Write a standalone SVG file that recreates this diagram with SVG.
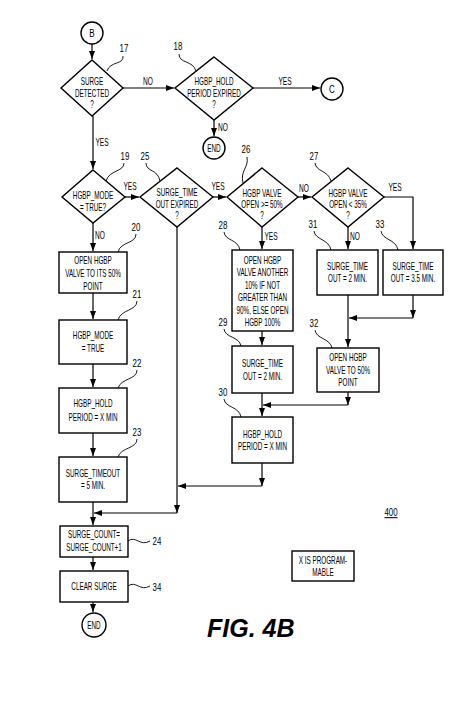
<svg xmlns="http://www.w3.org/2000/svg" width="474" height="706" viewBox="0 0 474 706">
<style>
.n{fill:#fff;stroke:#000;stroke-width:1.4}
.c{fill:none;stroke:#000;stroke-width:1.2}
.ld{fill:none;stroke:#000;stroke-width:0.9}
text{font-family:"Liberation Sans",Arial,sans-serif;fill:#000}
.t{font-size:11.5px;text-anchor:middle}
.l{font-size:11px;text-anchor:middle}
.num{font-size:10.5px;text-anchor:middle}
</style>
<defs>
<marker id="a" markerUnits="userSpaceOnUse" markerWidth="8" markerHeight="6" refX="8" refY="3" orient="auto">
<path d="M0,0 L8,3 L0,6 z" fill="#000"/>
</marker>
</defs>
<rect width="474" height="706" fill="#fff"/>

<g id="connectors">
<path class="c" d="M92,44 V59" marker-end="url(#a)"/>
<path class="c" d="M123,88 H174" marker-end="url(#a)"/>
<path class="c" d="M253,88 H320" marker-end="url(#a)"/>
<path class="c" d="M214,120 V136" marker-end="url(#a)"/>
<path class="c" d="M93,116 V169" marker-end="url(#a)"/>
<path class="c" d="M125,197 H139" marker-end="url(#a)"/>
<path class="c" d="M213,197 H226" marker-end="url(#a)"/>
<path class="c" d="M298,197 H311" marker-end="url(#a)"/>
<path class="c" d="M384,197 H413 V249" marker-end="url(#a)"/>
<path class="c" d="M348,227 V249" marker-end="url(#a)"/>
<path class="c" d="M262,227 V249" marker-end="url(#a)"/>
<path class="c" d="M93,223 V251" marker-end="url(#a)"/>
<path class="c" d="M93,293 V319" marker-end="url(#a)"/>
<path class="c" d="M93,364 V387" marker-end="url(#a)"/>
<path class="c" d="M93,433 V456" marker-end="url(#a)"/>
<path class="c" d="M93,502 V525" marker-end="url(#a)"/>
<path class="c" d="M93,557 V570" marker-end="url(#a)"/>
<path class="c" d="M93,602 V612" marker-end="url(#a)"/>
<path class="c" d="M177,227 V513" marker-end="url(#a)"/>
<path class="c" d="M177,513 H94" marker-end="url(#a)"/>
<path class="c" d="M262,331 V345" marker-end="url(#a)"/>
<path class="c" d="M348,295 V347" marker-end="url(#a)"/>
<path class="c" d="M413,295 V318" marker-end="url(#a)"/>
<path class="c" d="M413,318 H349" marker-end="url(#a)"/>
<path class="c" d="M262,393 V416" marker-end="url(#a)"/>
<path class="c" d="M348,392 V405" marker-end="url(#a)"/>
<path class="c" d="M348,405 H263" marker-end="url(#a)"/>
<path class="c" d="M262,463 V486" marker-end="url(#a)"/>
<path class="c" d="M262,486 H178" marker-end="url(#a)"/>
<text class="l" transform="translate(148,85) scale(0.6,1)">NO</text>
<text class="l" transform="translate(285,85) scale(0.6,1)">YES</text>
<text class="l" transform="translate(223,131) scale(0.6,1)">NO</text>
<text class="l" transform="translate(102,146) scale(0.6,1)">YES</text>
<text class="l" transform="translate(130,190) scale(0.6,1)">YES</text>
<text class="l" transform="translate(218,190) scale(0.6,1)">YES</text>
<text class="l" transform="translate(304,192) scale(0.6,1)">NO</text>
<text class="l" transform="translate(395,191) scale(0.6,1)">YES</text>
<text class="l" transform="translate(100,239) scale(0.6,1)">NO</text>
<text class="l" transform="translate(271,240) scale(0.6,1)">YES</text>
<text class="l" transform="translate(355,240) scale(0.6,1)">NO</text>
</g>

<g id="leaders">
<path class="ld" d="M123,56 C124,65 110,61 107,71"/>
<path class="ld" d="M179,54 C179,64 193,60 196,71"/>
<path class="ld" d="M124,163 C124,172 109,170 106,181"/>
<path class="ld" d="M146,163 C146,172 158,169 160,181"/>
<path class="ld" d="M247,157 C249,168 240,170 243,183"/>
<path class="ld" d="M315,163 C316,172 328,170 331,181"/>
<path class="ld" d="M224,232 C225,241 238,239 240,250"/>
<path class="ld" d="M314,231 C315,240 329,239 331,250"/>
<path class="ld" d="M381,231 C382,240 396,239 398,250"/>
<path class="ld" d="M224,329 C225,338 239,336 241,346"/>
<path class="ld" d="M315,330 C316,339 330,338 332,348"/>
<path class="ld" d="M224,399 C225,408 239,406 241,417"/>
<path class="ld" d="M136,234 C136,244 121,241 118,252"/>
<path class="ld" d="M137,301 C137,311 121,309 118,320"/>
<path class="ld" d="M137,370 C137,380 121,378 118,388"/>
<path class="ld" d="M137,439 C137,449 121,447 118,457"/>
<path class="ld" d="M128,541 C136,535 140,547 150,541"/>
<path class="ld" d="M128,586 C136,580 140,592 150,586"/>
</g>

<g id="B">
<circle class="n" cx="92" cy="33" r="11"/>
<text class="t" transform="translate(92,37) scale(0.7,1)">B</text>
</g>
<g id="n17">
<polygon class="n" points="92,60 123,88 92,116 61,88"/>
<text class="t" transform="translate(92,85) scale(0.55,1)">SURGE</text>
<text class="t" transform="translate(92,97) scale(0.55,1)">DETECTED</text>
<text class="t" transform="translate(92,108) scale(0.55,1)">?</text>
<text class="num" transform="translate(124,52) scale(0.75,1)">17</text>
</g>
<g id="n18">
<polygon class="n" points="214,57 253,88 214,120 175,88"/>
<text class="t" transform="translate(214,85) scale(0.55,1)">HGBP_HOLD</text>
<text class="t" transform="translate(214,97) scale(0.55,1)">PERIOD EXPIRED</text>
<text class="t" transform="translate(214,108) scale(0.55,1)">?</text>
<text class="num" transform="translate(178,50) scale(0.75,1)">18</text>
</g>
<g id="C">
<circle class="n" cx="332" cy="89" r="11"/>
<text class="t" transform="translate(332,93) scale(0.7,1)">C</text>
</g>
<g id="end1">
<circle class="n" cx="214" cy="148" r="11"/>
<text class="t" transform="translate(214,152) scale(0.55,1)">END</text>
</g>
<g id="n19">
<polygon class="n" points="93,170 125,197 93,223 62,197"/>
<text class="t" transform="translate(93,199) scale(0.55,1)">HGBP_MODE</text>
<text class="t" transform="translate(93,211) scale(0.55,1)">= TRUE?</text>
<text class="num" transform="translate(125,160) scale(0.75,1)">19</text>
</g>
<g id="n25">
<polygon class="n" points="177,168 213,197 177,227 140,197"/>
<text class="t" transform="translate(177,196) scale(0.55,1)">SURGE_TIME</text>
<text class="t" transform="translate(177,208) scale(0.55,1)">OUT EXPIRED</text>
<text class="t" transform="translate(177,219) scale(0.55,1)">?</text>
<text class="num" transform="translate(145,160) scale(0.75,1)">25</text>
</g>
<g id="n26">
<polygon class="n" points="262,168 298,197 262,227 227,197"/>
<text class="t" transform="translate(262,197) scale(0.55,1)">HGBP VALVE</text>
<text class="t" transform="translate(262,208) scale(0.55,1)">OPEN &gt;= 50%</text>
<text class="t" transform="translate(262,219) scale(0.55,1)">?</text>
<text class="num" transform="translate(246,153) scale(0.75,1)">26</text>
</g>
<g id="n27">
<polygon class="n" points="348,168 384,197 348,227 312,197"/>
<text class="t" transform="translate(348,197) scale(0.55,1)">HGBP VALVE</text>
<text class="t" transform="translate(348,208) scale(0.55,1)">OPEN &lt; 35%</text>
<text class="t" transform="translate(348,219) scale(0.55,1)">?</text>
<text class="num" transform="translate(314,160) scale(0.75,1)">27</text>
</g>
<g id="n20">
<rect class="n" x="59" y="252" width="68" height="41"/>
<text class="t" transform="translate(93,264) scale(0.55,1)">OPEN HGBP</text>
<text class="t" transform="translate(93,277) scale(0.55,1)">VALVE TO ITS 50%</text>
<text class="t" transform="translate(93,290) scale(0.55,1)">POINT</text>
<text class="num" transform="translate(136,231) scale(0.75,1)">20</text>
</g>
<g id="n21">
<rect class="n" x="59" y="320" width="68" height="44"/>
<text class="t" transform="translate(93,339) scale(0.55,1)">HGBP_MODE</text>
<text class="t" transform="translate(93,352) scale(0.55,1)">= TRUE</text>
<text class="num" transform="translate(137,298) scale(0.75,1)">21</text>
</g>
<g id="n22">
<rect class="n" x="59" y="388" width="68" height="45"/>
<text class="t" transform="translate(93,407) scale(0.55,1)">HGBP_HOLD</text>
<text class="t" transform="translate(93,421) scale(0.55,1)">PERIOD = X MIN</text>
<text class="num" transform="translate(137,367) scale(0.75,1)">22</text>
</g>
<g id="n23">
<rect class="n" x="59" y="457" width="68" height="45"/>
<text class="t" transform="translate(93,477) scale(0.55,1)">SURGE_TIMEOUT</text>
<text class="t" transform="translate(93,489) scale(0.55,1)">= 5 MIN.</text>
<text class="num" transform="translate(137,436) scale(0.75,1)">23</text>
</g>
<g id="n24">
<rect class="n" x="60" y="526" width="68" height="31"/>
<text class="t" transform="translate(94,538) scale(0.55,1)">SURGE_COUNT=</text>
<text class="t" transform="translate(94,551) scale(0.55,1)">SURGE_COUNT+1</text>
<text class="num" transform="translate(157,545) scale(0.75,1)">24</text>
</g>
<g id="n34">
<rect class="n" x="60" y="571" width="68" height="31"/>
<text class="t" transform="translate(94,590) scale(0.55,1)">CLEAR SURGE</text>
<text class="num" transform="translate(157,591) scale(0.75,1)">34</text>
</g>
<g id="end2">
<circle class="n" cx="94" cy="625" r="12"/>
<text class="t" transform="translate(94,629) scale(0.55,1)">END</text>
</g>
<g id="n28">
<rect class="n" x="232" y="250" width="61" height="81"/>
<text class="t" transform="translate(262.5,264) scale(0.55,1)">OPEN HGBP</text>
<text class="t" transform="translate(262.5,276) scale(0.55,1)">VALVE ANOTHER</text>
<text class="t" transform="translate(262.5,289) scale(0.55,1)">10% IF NOT</text>
<text class="t" transform="translate(262.5,301) scale(0.55,1)">GREATER THAN</text>
<text class="t" transform="translate(262.5,314) scale(0.55,1)">90%, ELSE OPEN</text>
<text class="t" transform="translate(262.5,326) scale(0.55,1)">HGBP 100%</text>
<text class="num" transform="translate(223,229) scale(0.75,1)">28</text>
</g>
<g id="n31">
<rect class="n" x="317" y="250" width="61" height="45"/>
<text class="t" transform="translate(347.5,270) scale(0.55,1)">SURGE_TIME</text>
<text class="t" transform="translate(347.5,282) scale(0.55,1)">OUT = 2 MIN.</text>
<text class="num" transform="translate(313,228) scale(0.75,1)">31</text>
</g>
<g id="n33">
<rect class="n" x="383" y="250" width="60" height="45"/>
<text class="t" transform="translate(413,270) scale(0.55,1)">SURGE_TIME</text>
<text class="t" transform="translate(413,282) scale(0.55,1)">OUT = 3.5 MIN.</text>
<text class="num" transform="translate(380,228) scale(0.75,1)">33</text>
</g>
<g id="n29">
<rect class="n" x="232" y="346" width="61" height="47"/>
<text class="t" transform="translate(262.5,367) scale(0.55,1)">SURGE_TIME</text>
<text class="t" transform="translate(262.5,380) scale(0.55,1)">OUT = 2 MIN.</text>
<text class="num" transform="translate(223,326) scale(0.75,1)">29</text>
</g>
<g id="n32">
<rect class="n" x="317" y="348" width="62" height="44"/>
<text class="t" transform="translate(348,361) scale(0.55,1)">OPEN HGBP</text>
<text class="t" transform="translate(348,374) scale(0.55,1)">VALVE TO 50%</text>
<text class="t" transform="translate(348,386) scale(0.55,1)">POINT</text>
<text class="num" transform="translate(314,327) scale(0.75,1)">32</text>
</g>
<g id="n30">
<rect class="n" x="232" y="417" width="61" height="46"/>
<text class="t" transform="translate(262.5,438) scale(0.55,1)">HGBP_HOLD</text>
<text class="t" transform="translate(262.5,450) scale(0.55,1)">PERIOD = X MIN</text>
<text class="num" transform="translate(223,396) scale(0.75,1)">30</text>
</g>
<g id="note">
<rect class="n" x="292" y="551" width="62" height="30"/>
<text class="t" transform="translate(323,564) scale(0.55,1)">X IS PROGRAM-</text>
<text class="t" transform="translate(323,576) scale(0.55,1)">MABLE</text>
</g>
<g id="labels">
<text class="num" text-decoration="underline" transform="translate(391,516) scale(0.75,1)">400</text>
<text x="207" y="637" font-size="25" font-weight="bold" font-style="italic">FIG. 4B</text>
</g>
</svg>
